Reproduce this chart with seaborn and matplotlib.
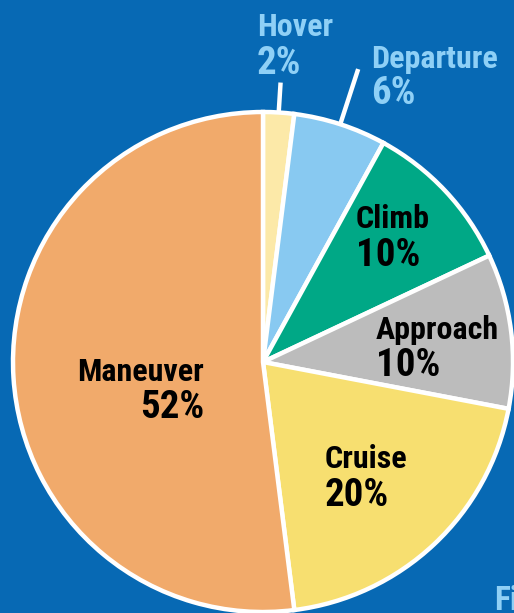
import numpy as np
import seaborn as sns
import matplotlib.pyplot as plt

# Flight phase shares (clockwise from 12 o'clock)
phases = ['Hover', 'Departure', 'Climb', 'Approach', 'Cruise', 'Maneuver']
shares = [2, 6, 10, 10, 20, 52]
colors = ['#fce9a8', '#88c9f1', '#00a886', '#bcbcbc', '#f7df70', '#f1aa6b']

bg = '#0769b4'
light = '#8fd0f6'

sns.set_style('white')
plt.rcParams['font.family'] = ['Roboto Condensed', 'DejaVu Sans']

W, H = 514, 613
cx, cy, R = 263, 362, 250   # pie centre / radius in pixels

fig = plt.figure(figsize=(W / 100, H / 100), dpi=100, facecolor=bg)
ax = fig.add_axes([0, 0, 1, 1])
ax.set_facecolor(bg)

ax.pie(shares, colors=colors, startangle=90, counterclock=False, radius=R,
       wedgeprops=dict(edgecolor='white', linewidth=3.2))

ax.set_xlim(-cx, W - cx)
ax.set_ylim(-(H - cy), cy)
ax.set_aspect('equal')
ax.axis('off')


def px(x, y):
    return x - cx, cy - y


# leader lines for the two small outside slices
cum = np.cumsum([0] + shares)
for i, r_out in [(0, 280), (1, 308)]:
    mid = np.deg2rad(90 - 3.6 * (cum[i] + cum[i + 1]) / 2)
    ax.plot([R * np.cos(mid), r_out * np.cos(mid)],
            [R * np.sin(mid), r_out * np.sin(mid)],
            color='white', lw=3.2, solid_capstyle='butt')

# label anchor x, name baseline, percent baseline (px), alignment, colour
labels = {
    'Hover': (257, 36, 74, 'left', light),
    'Departure': (371, 68, 104, 'left', light),
    'Climb': (356, 228, 266, 'left', 'black'),
    'Approach': (376, 339, 376, 'left', 'black'),
    'Cruise': (325, 468, 506, 'left', 'black'),
    'Maneuver': (204, 381, 418, 'right', 'black'),
}
for name, share in zip(phases, shares):
    x, y1, y2, ha, c = labels[name]
    ax.text(*px(x, y1), name, ha=ha, va='baseline', fontsize=23,
            fontweight='bold', color=c)
    ax.text(*px(x, y2), f'{share}%', ha=ha, va='baseline', fontsize=28,
            fontweight='bold', color=c)

# caption that runs off the bottom-right corner
ax.text(*px(494, 585), 'Figure', ha='left', va='top', fontsize=24,
        fontweight='bold', color=light, clip_on=False)

fig.savefig('out.png', dpi=100, facecolor=bg)
